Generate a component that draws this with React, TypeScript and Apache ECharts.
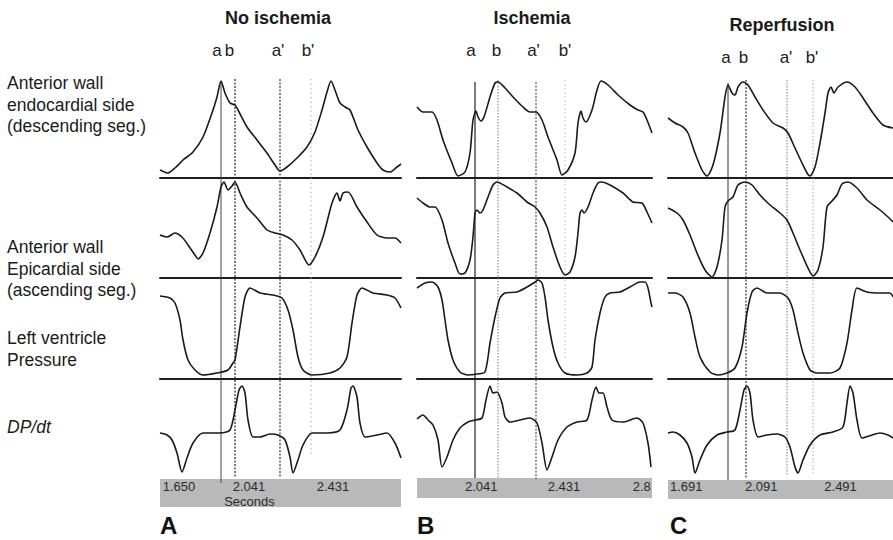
import React, { useEffect, useRef } from "react";
import * as echarts from "echarts";

// ---------- texts ----------
const panelTitles = ["No ischemia", "Ischemia", "Reperfusion"];
const panelLetters = ["A", "B", "C"];
const markerNames = ["a", "b", "a'", "b'"];
const rowLabels = [
  ["Anterior wall", "endocardial side", "(descending seg.)"],
  ["Anterior wall", "Epicardial side", "(ascending seg.)"],
  ["Left ventricle", "Pressure"],
  ["DP/dt"],
];
const axisName = "Seconds";

// ---------- time ticks (t = time units from panel start) ----------
const ticksA = [2.7, 72.7, 156.7];
const tickLabelsA = ["1.650", "2.041", "2.431"];
const ticksB = [48, 130.7, 215.7];
const tickLabelsB = ["2.041", "2.431", "2.8"];
const ticksC = [2, 77, 156.3];
const tickLabelsC = ["1.691", "2.091", "2.491"];

// ---------- marker times a, b, a', b' ----------
const markersA = [61, 75, 120, 151];
const markersB = [58, 81, 119, 148];
const markersC = [60, 78, 119, 145];
// vertical extent of each marker line [from, to] (units below the top of the trace stack)
const markerSpanA = [[6, 408], [4, 403], [4, 403], [4, 382]];
const markerSpanB = [[7, 403], [5, 403], [7, 404], [5, 285]];
const markerSpanC = [[8, 405], [5, 403], [5, 401], [5, 398]];

// ---------- traces: [t, amplitude] ----------
// Panel A — No ischemia
const endoA = [[0,8],[8,5],[15,10],[23,18],[33,26],[43,41],[52,65],[57,81],[61,97],[65,85],[70,75],[75,73],[78,68],[87,51],[97,38],[107,25],[115,13],[120,7],[127,11],[137,20],[147,31],[155,46],[162,68],[167,86],[171,97],[175,88],[180,75],[185,71],[190,68],[198,48],[207,31],[217,15],[223,8],[230,6],[237,11],[241,14]];
const epiA = [[0,43],[7,41],[15,45],[22,41],[28,33],[35,23],[38,19],[43,25],[50,45],[57,71],[61,91],[64,96],[68,88],[72,92],[75,96],[80,85],[87,71],[97,60],[107,48],[115,45],[123,43],[132,38],[140,28],[149,13],[155,21],[163,41],[172,75],[177,85],[180,77],[183,85],[188,86],[197,71],[207,56],[217,43],[227,40],[235,40],[241,35]];
const lvpA = [[0,83],[10,81],[15,76],[20,59],[23,39],[28,19],[35,9],[43,4],[57,6],[68,9],[73,16],[75,19],[80,52],[85,82],[90,91],[100,86],[113,84],[122,81],[128,69],[133,49],[138,22],[143,9],[152,4],[170,6],[180,11],[187,22],[192,56],[197,84],[202,91],[213,86],[227,84],[235,81],[241,71]];
const dpdtA = [[0,47],[7,45],[12,40],[17,27],[22,8],[27,22],[33,37],[43,47],[50,47],[60,47],[70,50],[75,70],[79,90],[82,94],[85,87],[88,60],[93,43],[100,43],[110,46],[118,45],[125,40],[130,23],[133,7],[138,20],[143,35],[152,47],[167,47],[180,50],[187,70],[191,92],[193,94],[197,83],[200,57],[205,43],[217,45],[227,47],[235,37],[241,22]];
// Panel B — Ischemia
const endoB = [[0,71],[6,66],[15,66],[20,58],[26,38],[35,15],[41,2],[48,6],[53,25],[56,58],[59,67],[61,61],[64,57],[67,61],[73,81],[78,95],[81,96],[88,90],[96,81],[106,71],[113,66],[119,66],[125,58],[131,41],[140,18],[145,3],[151,8],[158,25],[161,55],[164,67],[166,60],[169,56],[175,68],[180,88],[184,97],[191,93],[201,83],[213,73],[221,68],[226,66],[230,58],[235,45]];
const epiB = [[0,80],[6,75],[13,71],[18,71],[25,58],[31,35],[38,15],[43,4],[48,5],[53,18],[56,41],[58,65],[60,68],[63,65],[66,68],[71,81],[76,93],[80,96],[90,91],[100,85],[110,76],[118,71],[123,65],[130,51],[136,31],[143,11],[148,3],[153,6],[158,21],[161,45],[163,65],[165,68],[167,65],[171,71],[176,85],[181,95],[185,96],[193,93],[206,85],[216,76],[225,75],[230,66],[235,55]];
const lvpB = [[0,91],[8,96],[15,97],[21,92],[25,79],[28,59],[31,39],[36,19],[43,7],[51,4],[60,5],[68,7],[73,36],[78,62],[83,81],[88,86],[100,87],[110,92],[118,97],[121,99],[125,96],[128,82],[131,59],[136,32],[141,16],[148,6],[160,4],[170,6],[175,12],[178,39],[183,66],[188,82],[193,86],[203,87],[213,92],[223,97],[228,97],[231,91],[234,76],[235,72]];
const dpdtB = [[0,61],[6,65],[11,60],[16,55],[21,40],[25,13],[30,23],[36,40],[43,52],[51,58],[58,60],[65,62],[69,80],[73,94],[76,87],[80,88],[85,77],[88,63],[93,58],[103,60],[113,62],[120,57],[125,37],[130,10],[135,23],[141,40],[150,53],[160,58],[170,60],[175,80],[179,93],[182,87],[186,87],[190,73],[195,60],[206,58],[220,62],[226,57],[231,37],[234,13]];
// Panel C — Reperfusion
const endoC = [[0,60],[7,55],[15,51],[20,45],[27,25],[34,8],[39,2],[45,13],[52,45],[57,81],[60,93],[64,85],[67,83],[70,91],[75,96],[80,93],[87,81],[95,68],[105,55],[115,50],[120,45],[127,30],[134,15],[139,5],[142,2],[147,11],[152,35],[157,65],[160,85],[163,91],[166,85],[170,91],[179,96],[187,91],[195,80],[205,65],[215,53],[225,50]];
const epiC = [[0,70],[9,65],[15,58],[22,43],[29,25],[37,8],[44,1],[49,11],[54,38],[57,71],[60,77],[65,81],[70,93],[77,96],[84,93],[92,83],[102,73],[112,65],[119,58],[125,45],[132,28],[140,10],[145,2],[150,8],[155,31],[159,71],[164,77],[169,83],[174,94],[180,96],[189,90],[199,78],[212,68],[220,61],[225,56]];
const lvpC = [[0,86],[7,86],[15,82],[22,66],[27,42],[32,22],[42,7],[50,4],[59,6],[67,11],[74,32],[79,66],[84,87],[89,91],[99,86],[112,86],[120,81],[125,69],[130,46],[135,26],[142,9],[149,6],[162,6],[172,11],[179,36],[184,69],[189,91],[199,87],[212,86],[222,86],[225,82]];
const dpdtC = [[0,47],[5,48],[12,45],[19,37],[24,23],[27,7],[32,20],[39,35],[49,45],[59,48],[67,50],[72,70],[76,90],[79,94],[82,87],[85,60],[90,43],[99,45],[109,46],[117,43],[122,33],[127,13],[130,7],[135,20],[142,35],[152,45],[165,48],[175,53],[179,77],[182,94],[185,87],[189,60],[194,42],[204,45],[212,47],[220,45],[225,42]];

const FONT = "'Liberation Sans', Arial, Helvetica, sans-serif";

export default function App() {
  const ref = useRef<HTMLDivElement>(null);

  useEffect(() => {
    document.body.style.margin = "0";
    if (!ref.current) return;
    const chart = echarts.init(ref.current, null, { renderer: "svg" });

    const panels = [
      { left: 160, width: 241, traces: [endoA, epiA, lvpA, dpdtA], markers: markersA, spans: markerSpanA, ticks: ticksA, tickLabels: tickLabelsA, barTop: 479, barH: 28 },
      { left: 417, width: 235, traces: [endoB, epiB, lvpB, dpdtB], markers: markersB, spans: markerSpanB, ticks: ticksB, tickLabels: tickLabelsB, barTop: 478, barH: 20 },
      { left: 668, width: 225, traces: [endoC, epiC, lvpC, dpdtC], markers: markersC, spans: markerSpanC, ticks: ticksC, tickLabels: tickLabelsC, barTop: 480, barH: 19 },
    ];
    const rows = [
      { top: 75, h: 103 },
      { top: 178, h: 100 },
      { top: 278, h: 101 },
      { top: 379, h: 101 },
    ];
    const markerStyles = [
      [
        { color: "#444", type: "solid", width: 1 },
        { color: "#222", type: [2, 1.5], width: 1.2 },
        { color: "#333", type: [2, 1.5], width: 1.2 },
        { color: "#aaa", type: [1.5, 3], width: 1 },
      ],
      [
        { color: "#222", type: "solid", width: 1.2 },
        { color: "#777", type: [1.5, 1.5], width: 1 },
        { color: "#555", type: [2, 1.5], width: 1.2 },
        { color: "#bbb", type: [1.5, 2.5], width: 1 },
      ],
      [
        { color: "#333", type: "solid", width: 1 },
        { color: "#333", type: [2, 1.5], width: 1.2 },
        { color: "#888", type: [1.5, 1.5], width: 1.1 },
        { color: "#aaa", type: [1.5, 2], width: 1 },
      ],
    ];

    const grid: any[] = [];
    const xAxis: any[] = [];
    const yAxis: any[] = [];
    const series: any[] = [];

    panels.forEach((p, pi) => {
      // trace rows
      rows.forEach((r, ri) => {
        const idx = grid.length;
        grid.push({ left: p.left, top: r.top, width: p.width, height: r.h, containLabel: false });
        xAxis.push({
          gridIndex: idx, type: "value", min: 0, max: p.width,
          axisLine: { show: ri < 3, onZero: false, lineStyle: { color: "#1e1e1e", width: 2 } },
          axisTick: { show: false }, axisLabel: { show: false }, splitLine: { show: false },
        });
        yAxis.push({ gridIndex: idx, type: "value", min: 0, max: r.h, show: false, splitLine: { show: false } });
        series.push({
          type: "line", xAxisIndex: idx, yAxisIndex: idx, data: p.traces[ri],
          symbol: "none", smooth: 0.25, lineStyle: { color: "#1a1a1a", width: 1.6 }, z: 3,
        });
      });
      // gray time bar
      const bi = grid.length;
      grid.push({ left: p.left, top: p.barTop, width: p.width, height: p.barH, show: true, backgroundColor: "#b9b9b9", borderWidth: 0 });
      xAxis.push({
        gridIndex: bi, type: "value", min: 0, max: p.width, position: "top",
        axisLine: { show: false }, axisTick: { show: false }, splitLine: { show: false },
        axisLabel: {
          show: true, inside: true, customValues: p.ticks, align: "left", margin: 480 - p.barTop,
          formatter: (v: number) => p.tickLabels[p.ticks.indexOf(v)] ?? "",
          color: "#2a2a2a", fontSize: 13, fontFamily: FONT,
        },
      });
      yAxis.push({ gridIndex: bi, type: "value", min: 0, max: 1, show: false });
      // overlay for marker lines
      const oi = grid.length;
      grid.push({ left: p.left, top: 75, width: p.width, height: 410 });
      xAxis.push({ gridIndex: oi, type: "value", min: 0, max: p.width, show: false });
      yAxis.push({ gridIndex: oi, type: "value", min: 0, max: 410, inverse: true, show: false });
      p.markers.forEach((m, mi) => {
        series.push({
          type: "line", xAxisIndex: oi, yAxisIndex: oi, symbol: "none", z: 2,
          data: [[m, p.spans[mi][0]], [m, p.spans[mi][1]]],
          lineStyle: markerStyles[pi][mi],
        });
      });
    });

    // ---------- texts ----------
    const graphic: any[] = [];
    const titlePos = [
      { x: 278, y: 18 },
      { x: 532, y: 18 },
      { x: 782, y: 25 },
    ];
    const labelPos = [
      { xs: [217, 229.5, 278, 308], y: 50 },
      { xs: [471, 496.5, 533.5, 565], y: 50 },
      { xs: [726, 743.5, 786, 812], y: 57 },
    ];
    const letterPos = [
      { x: 160, y: 525 },
      { x: 417, y: 525 },
      { x: 670, y: 525 },
    ];
    panelTitles.forEach((t, i) => {
      graphic.push({
        type: "text", x: titlePos[i].x, y: titlePos[i].y,
        style: { text: t, fontSize: 18, fontWeight: "bold", fontFamily: FONT, fill: "#1a1a1a", align: "center", verticalAlign: "middle" },
      });
      markerNames.forEach((n, j) => {
        graphic.push({
          type: "text", x: labelPos[i].xs[j], y: labelPos[i].y,
          style: { text: n, fontSize: 17, fontFamily: FONT, fill: "#1a1a1a", align: "center", verticalAlign: "middle" },
        });
      });
      graphic.push({
        type: "text", x: letterPos[i].x, y: letterPos[i].y,
        style: { text: panelLetters[i], fontSize: 24, fontWeight: "bold", fontFamily: FONT, fill: "#111", align: "left", verticalAlign: "middle" },
      });
    });
    const rowLabelTop = [83, 247, 338, 427];
    rowLabels.forEach((lines, ri) => {
      lines.forEach((ln, li) => {
        graphic.push({
          type: "text", x: 7, y: rowLabelTop[ri] + li * 21.5,
          style: {
            text: ln, fontSize: 17.5, fontFamily: FONT, fill: "#1a1a1a", align: "left", verticalAlign: "middle",
            fontStyle: ri === 3 ? "italic" : "normal",
          },
        });
      });
    });
    graphic.push({
      type: "text", x: 249.5, y: 501.5,
      style: { text: axisName, fontSize: 13, fontFamily: FONT, fill: "#2a2a2a", align: "center", verticalAlign: "middle" },
    });

    chart.setOption({
      animation: false,
      backgroundColor: "#ffffff",
      grid, xAxis, yAxis, series, graphic,
    });
    return () => chart.dispose();
  }, []);

  return <div ref={ref} style={{ width: 893, height: 540 }} />;
}
